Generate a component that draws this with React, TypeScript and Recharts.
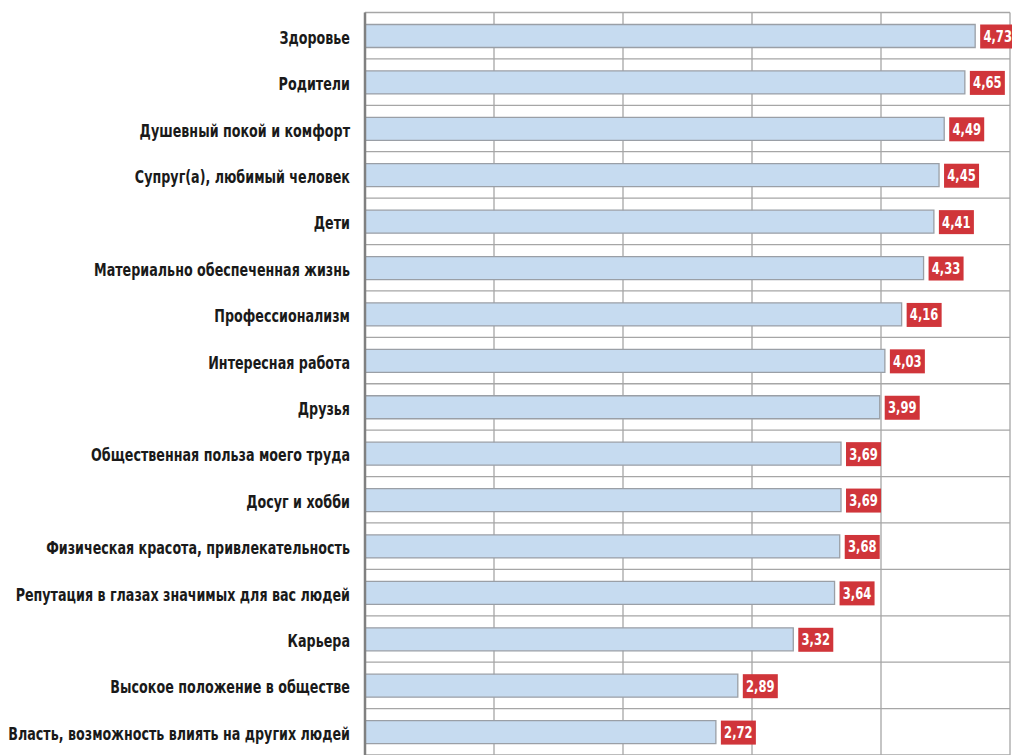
import React from 'react';
import { BarChart, Bar, XAxis, YAxis, CartesianGrid, LabelList } from 'recharts';

const categories = [
  'Здоровье',
  'Родители',
  'Душевный покой и комфорт',
  'Супруг(а), любимый человек',
  'Дети',
  'Материально обеспеченная жизнь',
  'Профессионализм',
  'Интересная работа',
  'Друзья',
  'Общественная польза моего труда',
  'Досуг и хобби',
  'Физическая красота, привлекательность',
  'Репутация в глазах значимых для вас людей',
  'Карьера',
  'Высокое положение в обществе',
  'Власть, возможность влиять на других людей',
];

const values = [4.73, 4.65, 4.49, 4.45, 4.41, 4.33, 4.16, 4.03, 3.99, 3.69, 3.69, 3.68, 3.64, 3.32, 2.89, 2.72];

const xTicks = [0, 1, 2, 3, 4, 5];

const data = categories.map((name, i) => ({ name, value: values[i] }));

const FONT = '"DejaVu Sans Condensed", "DejaVu Sans", sans-serif';

const ValueLabel = (props: any) => {
  const { x, y, width, height, value } = props;
  const bx = Number(x) + Number(width) + 5;
  const by = Number(y);
  const bw = 35;
  const bh = Number(height) + 1;
  return (
    <g>
      <rect x={bx} y={by} width={bw} height={bh} fill="#d0353a" />
      <text
        transform={`translate(${bx + bw / 2}, ${by + bh / 2 + 1}) scale(0.78, 1)`}
        x={0}
        y={0}
        textAnchor="middle"
        dominantBaseline="middle"
        fill="#ffffff"
        fontFamily={FONT}
        fontWeight="bold"
        fontSize={16.5}
      >
        {Number(value).toFixed(2).replace('.', ',')}
      </text>
    </g>
  );
};

const CategoryTick = (props: any) => {
  const { y, payload } = props;
  return (
    <text
      transform={`translate(350, ${Number(y) + 3}) scale(0.785, 1)`}
      x={0}
      y={0}
      textAnchor="end"
      dominantBaseline="middle"
      fill="#1a1a1a"
      fontFamily={FONT}
      fontWeight="bold"
      fontSize={18}
    >
      {payload.value}
    </text>
  );
};

export default function App() {
  const n = categories.length;
  return (
    <div style={{ position: 'absolute', left: 0, top: 0, width: 1012, height: 755, overflow: 'hidden', background: '#fff' }}>
      <BarChart
        width={1012}
        height={755}
        data={data}
        layout="vertical"
        margin={{ top: 12.5, right: 2, bottom: 0, left: 0 }}
      >
        <CartesianGrid
          stroke="#a6a6a6"
          strokeWidth={1.3}
          horizontalCoordinatesGenerator={({ offset }: any) =>
            Array.from({ length: n + 1 }, (_, i) => offset.top + (i * offset.height) / n)
          }
        />
        <XAxis type="number" domain={[0, 5]} ticks={xTicks} hide />
        <YAxis
          type="category"
          dataKey="name"
          width={365}
          axisLine={{ stroke: '#808080', strokeWidth: 2.5 }}
          tickLine={false}
          tick={<CategoryTick />}
          interval={0}
        />
        <Bar dataKey="value" fill="#c6dbf0" stroke="#9a9fa6" strokeWidth={1.3} barSize={23} isAnimationActive={false}>
          <LabelList dataKey="value" content={<ValueLabel />} />
        </Bar>
      </BarChart>
    </div>
  );
}
